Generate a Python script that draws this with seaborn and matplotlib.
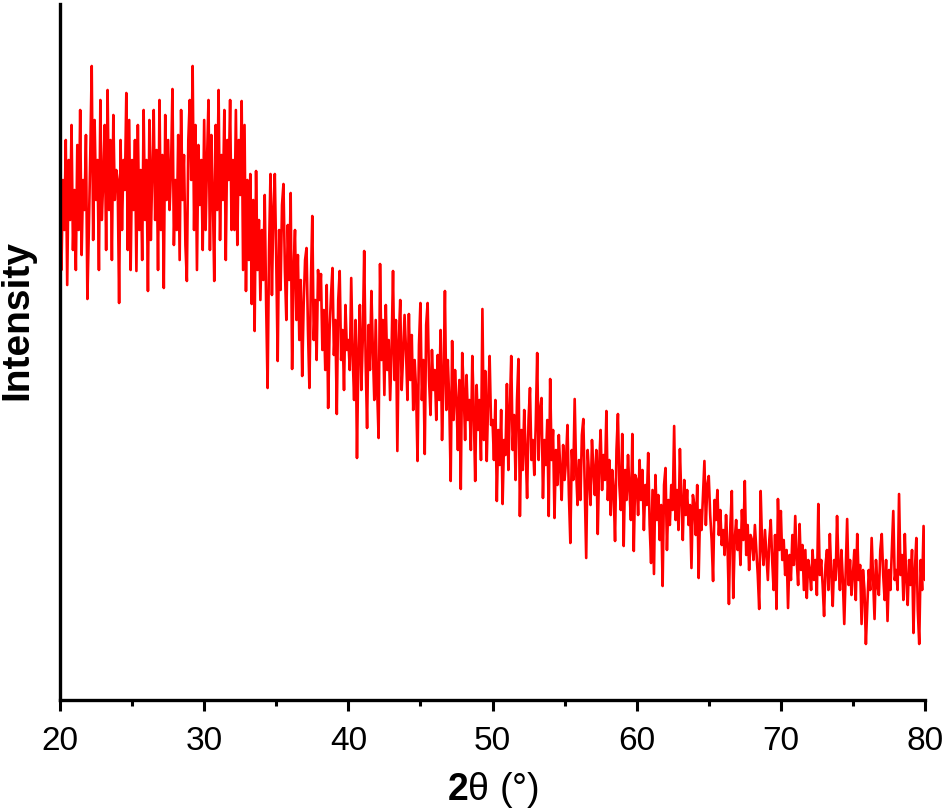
import numpy as np
import pandas as pd
import seaborn as sns
import matplotlib
matplotlib.use("Agg")
import matplotlib.pyplot as plt
from matplotlib.ticker import MultipleLocator, NullLocator

# scan grid: 20.0 ... 80.0 deg, step 0.1 deg
two_theta = np.round(20.0 + 0.1 * np.arange(601), 1)

# intensity (a.u.), 20 points per row (2 deg per row)
intensity = [
    500, 430, 520, 470, 560, 415, 540, 480, 575, 450, 510, 430, 555, 470, 590, 445, 520, 490, 565, 401,  # 20
    470, 545, 634, 460, 580, 500, 540, 430, 600, 480, 520, 575, 450, 610, 490, 560, 440, 585, 500, 530,  # 22
    520, 397, 560, 470, 540, 510, 607, 450, 580, 430, 540, 490, 560, 429, 575, 470, 530, 440, 590, 480,  # 24
    540, 409, 580, 460, 530, 590, 480, 550, 430, 600, 470, 545, 412, 585, 500, 560, 490, 530, 611, 455,  # 26
    520, 470, 565, 440, 590, 500, 545, 455, 419, 560, 600, 520, 634, 470, 575, 430, 555, 495, 540, 450,  # 28
    580, 470, 540, 600, 450, 565, 505, 419, 575, 490, 610, 460, 545, 500, 590, 440, 560, 520, 600, 470,  # 30
    540, 470, 590, 455, 560, 505, 599, 430, 575, 409, 520, 440, 526, 396, 500, 369, 529, 430, 480, 400,  # 32
    470, 420, 505, 395, 312, 450, 526, 405, 490, 526, 440, 339, 470, 410, 495, 516, 430, 380, 475, 420,  # 34
    507, 331, 430, 470, 380, 445, 360, 420, 324, 395, 440, 452, 370, 312, 415, 484, 360, 400, 340, 430,  # 36
    400, 426, 350, 390, 330, 415, 292, 370, 405, 432, 345, 380, 286, 400, 429, 340, 370, 310, 395, 350,  # 38
    360, 330, 422, 345, 300, 380, 242, 350, 395, 310, 360, 449, 340, 272, 375, 330, 409, 350, 300, 380,  # 40
    310, 262, 436, 340, 380, 305, 395, 330, 360, 300, 350, 429, 320, 380, 249, 360, 400, 310, 345, 385,  # 42
    350, 300, 386, 320, 365, 290, 340, 310, 239, 355, 397, 300, 340, 246, 375, 397, 320, 285, 350, 310,  # 44
    330, 280, 345, 300, 370, 260, 320, 409, 290, 340, 300, 219, 359, 280, 330, 300, 250, 320, 211, 347,  # 46
    310, 260, 325, 280, 300, 250, 344, 290, 219, 315, 270, 300, 240, 391, 260, 329, 239, 300, 344, 275,  # 48
    280, 240, 300, 199, 270, 235, 290, 196, 260, 245, 316, 230, 290, 344, 250, 285, 220, 300, 341, 184,  # 50
    270, 230, 290, 250, 202, 280, 312, 240, 260, 225, 275, 347, 240, 290, 302, 202, 260, 235, 280, 184,  # 52
    321, 240, 270, 182, 250, 215, 265, 230, 200, 255, 220, 240, 275, 205, 157, 250, 220, 301, 230, 195,  # 54
    240, 200, 265, 281, 210, 142, 250, 225, 195, 260, 230, 205, 250, 166, 235, 270, 210, 245, 220, 289,  # 56
    200, 240, 185, 230, 210, 159, 250, 286, 215, 190, 266, 154, 230, 200, 245, 210, 180, 266, 149, 225,  # 58
    220, 185, 240, 200, 230, 170, 215, 195, 247, 175, 137, 210, 126, 225, 180, 205, 160, 195, 114, 215,  # 60
    232, 150, 200, 175, 215, 190, 274, 180, 210, 170, 251, 200, 160, 220, 185, 210, 175, 195, 132, 205,  # 62
    195, 165, 215, 122, 190, 170, 205, 239, 175, 215, 224, 185, 160, 119, 200, 180, 210, 165, 190, 155,  # 64
    170, 145, 185, 155, 96, 175, 209, 102, 160, 180, 150, 170, 135, 190, 160, 219, 145, 175, 130, 165,  # 66
    160, 140, 175, 150, 125, 91, 209, 155, 135, 170, 145, 120, 160, 180, 140, 110, 165, 91, 201, 150,  # 68
    189, 140, 160, 125, 150, 92, 145, 120, 165, 135, 184, 140, 115, 176, 130, 155, 110, 150, 102, 140,  # 70
    130, 110, 150, 120, 140, 105, 196, 125, 140, 115, 84, 135, 150, 110, 166, 125, 94, 140, 120, 184,  # 72
    135, 110, 150, 120, 76, 130, 181, 115, 140, 105, 125, 150, 100, 166, 120, 135, 76, 130, 110, 56,  # 74
    95, 130, 110, 162, 120, 81, 140, 115, 105, 150, 166, 125, 100, 140, 79, 130, 110, 150, 189, 120,  # 76
    130, 110, 206, 125, 145, 100, 166, 120, 95, 140, 115, 150, 67, 130, 162, 90, 56, 140, 110, 174,  # 78
    120,  # 80
]

x_ticks = [20, 30, 40, 50, 60, 70, 80]
x_label = r"$\mathbf{2}$θ (°)"
y_label = "Intensity"

df = pd.DataFrame({"two_theta": two_theta, "intensity": intensity})

sns.set_style("ticks")
plt.rcParams["font.family"] = ["Liberation Sans", "DejaVu Sans"]
plt.rcParams["mathtext.fontset"] = "custom"
plt.rcParams["mathtext.rm"] = "Liberation Sans"
plt.rcParams["mathtext.bf"] = "Liberation Sans:bold"
plt.rcParams["text.color"] = "black"
plt.rcParams["axes.labelcolor"] = "black"
plt.rcParams["xtick.color"] = "black"
plt.rcParams["xtick.labelcolor"] = "black"

fig = plt.figure(figsize=(9.45, 8.11), dpi=100)
ax = fig.add_axes([60 / 945, 1 - 700 / 811, 865 / 945, 696 / 811])

sns.lineplot(data=df, x="two_theta", y="intensity", ax=ax, color="#ff0000",
             linewidth=1.9, estimator=None, sort=False)

ax.set_xlim(20, 80)
ax.set_ylim(0, 696)
ax.set_xticks(x_ticks)
ax.xaxis.set_minor_locator(MultipleLocator(5))
ax.yaxis.set_major_locator(NullLocator())
ax.yaxis.set_minor_locator(NullLocator())

for side in ["top", "right"]:
    ax.spines[side].set_visible(False)
for side in ["left", "bottom"]:
    ax.spines[side].set_linewidth(2.4)
    ax.spines[side].set_color("black")

ax.tick_params(axis="x", which="major", direction="out", length=8, width=2.2,
               labelsize=24, pad=11, color="black", labelcolor="black")
ax.tick_params(axis="x", which="minor", direction="out", length=4, width=2.2, color="black")

ax.set_xlabel(x_label, fontsize=27, labelpad=9, color="black")
ax.set_ylabel(y_label, fontsize=28, fontweight="bold", color="black")
ax.yaxis.set_label_coords(-0.028, 0.546)

fig.savefig("out.png", dpi=100, facecolor="white")
